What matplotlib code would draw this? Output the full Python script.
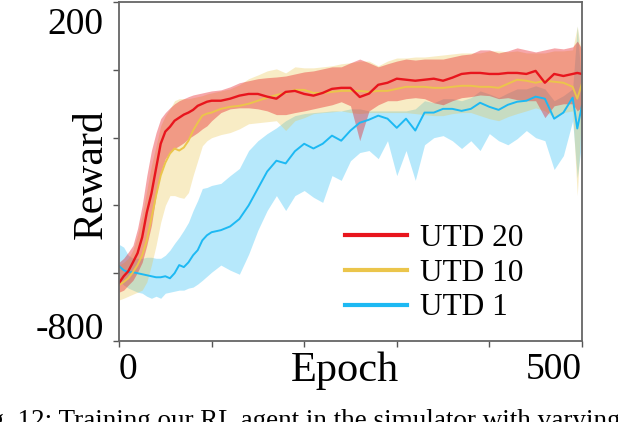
import numpy as np
import matplotlib
matplotlib.use("Agg")
import matplotlib.pyplot as plt
import matplotlib.transforms as mtransforms

plt.rcParams['font.family'] = ['Liberation Serif', 'DejaVu Serif']

# --------------------------------------------------
# data (reward vs epoch)
# --------------------------------------------------
epochs = [0, 5, 10, 15, 20, 25, 30, 35, 40, 45, 50, 55, 60, 65, 70, 75, 80, 85, 90, 95,
          100, 110, 120, 130, 140, 150, 160, 170, 180, 190, 200, 210, 220, 230, 240,
          250, 260, 270, 280, 290, 300, 310, 320, 330, 340, 350, 360, 370, 380, 390,
          400, 410, 420, 430, 440, 450, 460, 470, 480, 490, 495, 500]

# UTD 20
utd20_mean = [-629, -609, -594, -568, -541, -494, -421, -365, -291, -218, -182, -168, -150, -141,
              -132, -126, -118, -106, -100, -94, -91, -91, -85, -76, -71, -71, -79, -85, -65, -62,
              -71, -76, -68, -56, -53, -53, -80, -70, -44, -38, -26, -29, -32, -29, -26, -32,
              -23, -12, -9, -9, -12, -12, -9, -9, -12, -3, -38, -12, -18, -12, -9, -12]
utd20_hi = [-568, -556, -538, -518, -468, -400, -312, -238, -185, -144, -126, -112, -100, -91,
            -85, -79, -74, -71, -68, -65, -62, -59, -50, -38, -32, -26, -23, -21, -18, -12,
            -6, -3, 3, 9, 9, 21, 32, 21, 9, 18, 26, 32, 29, 32, 32, 32,
            38, 44, 47, 59, 59, 50, 56, 65, 59, 53, 59, 65, 62, 68, 85, 62]
utd20_lo = [-656, -650, -635, -621, -597, -568, -518, -459, -371, -303, -262, -244, -232, -224,
            -215, -203, -194, -185, -174, -165, -150, -126, -115, -112, -112, -115, -121, -132,
            -132, -126, -121, -115, -109, -103, -94, -106, -209, -121, -103, -91, -91, -85,
            -82, -85, -97, -103, -91, -82, -79, -74, -76, -85, -82, -88, -91, -91, -141, -106,
            -100, -100, -121, -109]

# UTD 10
utd10_mean = [-635, -626, -615, -597, -576, -547, -503, -438, -371, -312, -274, -247, -232, -238,
              -229, -209, -179, -156, -135, -129, -126, -115, -109, -106, -100, -91, -82, -74,
              -68, -59, -59, -68, -68, -65, -62, -62, -62, -65, -62, -62, -56, -50, -50, -50,
              -53, -53, -50, -47, -47, -50, -50, -53, -41, -29, -32, -38, -32, -35, -38, -50,
              -85, -41]
utd10_hi = [-576, -568, -556, -532, -488, -429, -356, -282, -224, -165, -135, -115, -91, -85,
            -85, -85, -82, -79, -76, -71, -68, -62, -56, -44, -26, -15, -3, 3, -9, 9,
            6, 6, 9, 12, 18, 21, 26, 26, 12, 26, 35, 35, 38, 38, 41, 44,
            47, 50, 50, 50, 56, 56, 53, 56, 50, 50, 50, 56, 56, 59, 129, 41]
utd10_lo = [-679, -674, -668, -662, -656, -650, -626, -576, -518, -450, -400, -371, -371, -376,
            -379, -362, -312, -268, -224, -209, -200, -191, -185, -174, -159, -156, -153, -150,
            -179, -150, -141, -129, -126, -124, -121, -126, -129, -126, -126, -126, -126, -126,
            -129, -132, -135, -135, -129, -126, -126, -135, -144, -150, -138, -129, -121, -112,
            -121, -141, -126, -121, -371, -106]

# UTD 1
utd1_mean = [-579, -591, -597, -597, -600, -603, -606, -609, -612, -612, -609, -615, -600, -576,
             -582, -568, -547, -532, -503, -488, -479, -473, -462, -440, -400, -350, -300, -268,
             -276, -240, -218, -232, -218, -194, -209, -179, -156, -147, -135, -144, -171, -144,
             -179, -126, -126, -115, -115, -121, -115, -97, -109, -118, -103, -94, -91, -79,
             -85, -144, -126, -82, -173, -106]
utd1_hi = [-515, -523, -547, -556, -556, -556, -553, -553, -556, -556, -547, -532, -512, -494,
           -473, -450, -415, -385, -350, -347, -341, -335, -312, -291, -238, -209, -188, -171,
           -150, -135, -129, -126, -124, -121, -121, -115, -115, -121, -121, -121, -121, -121,
           -115, -91, -97, -85, -85, -91, -82, -62, -71, -82, -68, -56, -56, -47, -56, -91,
           -76, -56, 129, -62]
utd1_lo = [-621, -635, -644, -650, -656, -659, -668, -674, -668, -674, -659, -656, -653, -650,
           -650, -644, -641, -632, -621, -609, -597, -576, -591, -603, -544, -473, -415, -371,
           -415, -371, -356, -376, -391, -312, -326, -268, -244, -238, -262, -209, -312, -238,
           -326, -221, -200, -194, -209, -232, -209, -238, -188, -209, -221, -203, -179, -200,
           -209, -294, -253, -150, -318, -209]

labels = ["UTD 20", "UTD 10", "UTD 1"]
colors = ["#e8151d", "#ebc54b", "#1db9f3"]

# --------------------------------------------------
# plot
# --------------------------------------------------
fig = plt.figure(figsize=(6.18, 4.22), dpi=100)
ax = fig.add_axes([0.1926, 0.192, 0.749, 0.803])

series = [
    (utd1_mean, utd1_lo, utd1_hi, colors[2], 0.32, 1.4),
    (utd10_mean, utd10_lo, utd10_hi, colors[1], 0.32, 1.4),
    (utd20_mean, utd20_lo, utd20_hi, colors[0], 0.38, 1.7),
]
for mean, lo, hi, c, a, lw in series:
    ax.fill_between(epochs, lo, hi, color=c, alpha=a, linewidth=0)
    ax.plot(epochs, mean, color=c, linewidth=lw)

ax.set_xlim(0, 500)
ax.set_ylim(-800, 200)

ax.set_xticks([0, 100, 200, 300, 400, 500])
ax.set_xticklabels(["0", "", "", "", "", "500"], fontsize=27)
ax.set_yticks([-800, -600, -400, -200, 0, 200])
ax.set_yticklabels(["-800", "", "", "", "", "200"], fontsize=27)
ax.tick_params(direction="out", length=4, width=1, colors="#555555", labelcolor="black")
ax.tick_params(axis="x", pad=4)
ax.tick_params(axis="y", pad=7)
xl = ax.get_xticklabels()
xl[0].set_ha("left")
xl[-1].set_ha("right")
# push the two y labels a little down, as in the reference
shift = mtransforms.ScaledTranslation(0, -4 / 72, fig.dpi_scale_trans)
yl = ax.get_yticklabels()
yl[0].set_va("bottom")
yl[-1].set_va("top")
for t in ax.get_yticklabels():
    t.set_transform(t.get_transform() + shift)

for s in ax.spines.values():
    s.set_color("#666666")
    s.set_linewidth(1.3)

ax.text(0.488, -0.03, "Epoch", transform=ax.transAxes, ha="center", va="top", fontsize=30.5)
ax.text(-0.06, 0.493, "Reward", transform=ax.transAxes, ha="center", va="center",
        rotation=90, fontsize=30)

handles = [plt.Line2D([], [], color=c, linewidth=3) for c in colors]
ax.legend(handles, labels, loc="lower right", bbox_to_anchor=(0.92, -0.01), frameon=False,
          fontsize=22.5, handlelength=2.0, handletextpad=0.4, labelspacing=0.18,
          borderaxespad=0.3)

fig.text(-32 / 618, 1 - 409 / 422, "Fig. 12: Training our RL agent in the simulator with varying",
         ha="left", va="top", fontsize=19.5)

fig.savefig("out.png", dpi=100)
